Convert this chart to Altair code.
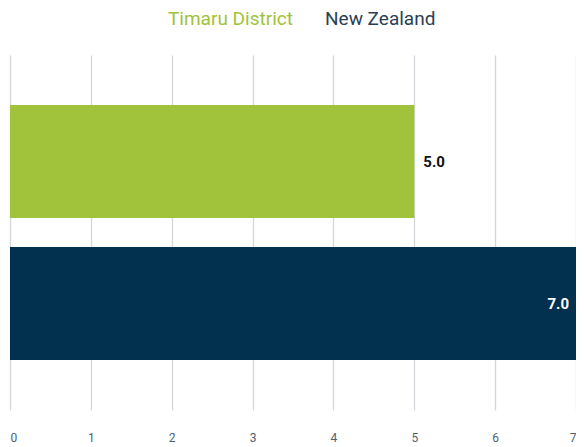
import altair as alt
import pandas as pd

categories = ["Timaru District", "New Zealand"]
values = [5.0, 7.0]
colors = ["#a0c33b", "#02304f"]

df = pd.DataFrame({"series": categories, "value": values})

base = alt.Chart(df).encode(
    y=alt.Y("series:N", sort=categories, axis=None,
            scale=alt.Scale(paddingInner=0.204, paddingOuter=0.352)),
)

bars = base.mark_bar().encode(
    x=alt.X("value:Q", scale=alt.Scale(domain=[0, 7], nice=False),
            axis=alt.Axis(values=[0, 1, 2, 3, 4, 5, 6, 7], format="d", title=None,
                          domain=False, ticks=False, grid=True,
                          gridColor="#d3d7db", gridWidth=1.3,
                          labelColor="#4d6272", labelFontSize=12, labelFont="Roboto",
                          labelPadding=22)),
    color=alt.Color("series:N", sort=categories,
                    scale=alt.Scale(domain=categories, range=colors),
                    legend=alt.Legend(orient="none", legendX=139, legendY=-46,
                                      direction="horizontal", title=None,
                                      symbolSize=0, symbolStrokeWidth=0, labelOffset=0,
                                      columnPadding=13,
                                      labelFont="Roboto", labelFontSize=19,
                                      labelColor={"expr": "datum.label == 'Timaru District' ? '#a0c33b' : '#2a3f55'"})),
)

txt_out = base.transform_filter(alt.datum.value < 6).mark_text(
    align="left", dx=9, fontWeight="bold", fontSize=15, font="Roboto", color="#111111"
).encode(x="value:Q", text=alt.Text("value:Q", format=".1f"))

txt_in = base.transform_filter(alt.datum.value >= 6).mark_text(
    align="right", dx=-7, fontWeight="bold", fontSize=15, font="Roboto", color="#ffffff"
).encode(x="value:Q", text=alt.Text("value:Q", format=".1f"))

chart = alt.layer(bars, txt_out, txt_in).properties(
    width=566, height=355,
    autosize=alt.AutoSizeParams(type="none"),
    padding={"left": 2, "top": 47, "right": 0, "bottom": 40},
).configure_view(stroke=None)

chart.save("out.html", embed_options={"renderer": "svg", "actions": False})
